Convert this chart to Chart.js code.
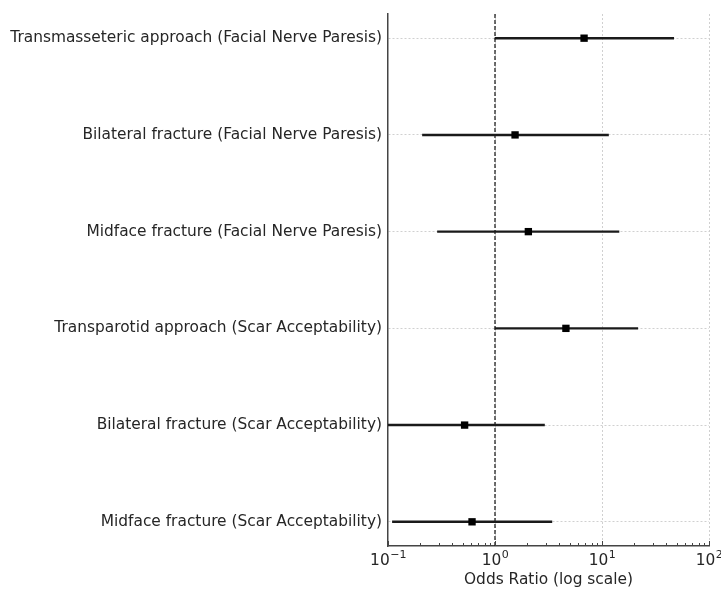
<!DOCTYPE html>
<html>
<head>
<meta charset="utf-8">
<script src="https://cdn.jsdelivr.net/npm/chart.js@4.4.0/dist/chart.umd.min.js"></script>
<style>
  html, body { margin: 0; padding: 0; background: #fff; }
  #wrap { width: 721px; height: 589px; }
</style>
</head>
<body>
<div id="wrap"><canvas id="forest"></canvas></div>
<script>
// forest plot data
const labels = [
    'Transmasseteric approach (Facial Nerve Paresis)',
    'Bilateral fracture (Facial Nerve Paresis)',
    'Midface fracture (Facial Nerve Paresis)',
    'Transparotid approach (Scar Acceptability)',
    'Bilateral fracture (Scar Acceptability)',
    'Midface fracture (Scar Acceptability)'
];
const oddsRatio = [6.8, 1.54, 2.05, 4.6, 0.52, 0.61];
const ciLow = [1.0, 0.21, 0.29, 1.0, 0.1, 0.11];
const ciHigh = [46.8, 11.5, 14.4, 21.6, 2.9, 3.4];
const xTicks = [0.1, 1, 10, 100];
const xTickExp = ['\u22121', '0', '1', '2'];

const FONT = "'DejaVu Sans', sans-serif";
const TEXT = '#262626';
const isMajor = v => xTicks.includes(v);

// inward ticks + 10^n labels on the bottom spine, like matplotlib
const tickPlugin = {
    id: 'inTicks',
    afterDatasetsDraw(chart) {
        const x = chart.scales.x;
        const ctx = chart.ctx;
        const bottom = chart.chartArea.bottom;
        ctx.save();
        ctx.strokeStyle = '#444';
        ctx.lineWidth = 1;
        x.ticks.forEach(t => {
            const px = Math.round(x.getPixelForValue(t.value)) + 0.5;
            const len = isMajor(t.value) ? 5 : 3;
            ctx.beginPath();
            ctx.moveTo(px, bottom);
            ctx.lineTo(px, bottom - len);
            ctx.stroke();
        });
        // major labels with superscript exponent
        ctx.fillStyle = TEXT;
        ctx.textBaseline = 'alphabetic';
        xTicks.forEach((v, i) => {
            const px = x.getPixelForValue(v);
            ctx.font = `15.4px ${FONT}`;
            const wBase = ctx.measureText('10').width;
            ctx.font = `11px ${FONT}`;
            const wExp = ctx.measureText(xTickExp[i]).width;
            const left = px - (wBase + wExp) / 2;
            ctx.font = `15.4px ${FONT}`;
            ctx.textAlign = 'left';
            ctx.fillText('10', left, bottom + 19);
            ctx.font = `11px ${FONT}`;
            ctx.fillText(xTickExp[i], left + wBase + 0.5, bottom + 12);
        });
        ctx.restore();
    }
};

const rows = labels.map((_, i) => i);

new Chart(document.getElementById('forest'), {
    type: 'bar',
    data: {
        datasets: [
            {
                type: 'line',
                label: 'OR = 1',
                data: [{ x: 1, y: -0.25 }, { x: 1, y: 5.25 }],
                borderColor: '#222',
                borderWidth: 1.3,
                borderDash: [4, 2],
                pointRadius: 0,
                order: 3
            },
            {
                type: 'bar',
                label: 'CI',
                data: rows.map(i => ({ x: [ciLow[i], ciHigh[i]], y: i })),
                backgroundColor: '#1a1a1a',
                borderWidth: 0,
                barThickness: 1.8,
                order: 2
            },
            {
                type: 'scatter',
                label: 'Odds ratio',
                data: rows.map(i => ({ x: oddsRatio[i], y: i })),
                pointStyle: 'rect',
                pointRadius: 5.2,
                backgroundColor: '#000',
                borderColor: '#000',
                borderWidth: 0,
                order: 1
            }
        ]
    },
    options: {
        indexAxis: 'y',
        responsive: true,
        maintainAspectRatio: false,
        animation: false,
        layout: { padding: { top: 14, right: 12, left: 0, bottom: 0 } },
        plugins: {
            legend: { display: false },
            tooltip: { enabled: false }
        },
        scales: {
            x: {
                type: 'logarithmic',
                min: 0.1,
                max: 100,
                afterBuildTicks(scale) {
                    const t = [];
                    [0.1, 1, 10].forEach(d => {
                        for (let k = 1; k < 10; k++) t.push({ value: +(d * k).toPrecision(3) });
                    });
                    t.push({ value: 100 });
                    scale.ticks = t;
                },
                afterFit(scale) {
                    scale.height = 43;
                    scale.paddingLeft = 0;
                    scale.paddingRight = 0;
                },
                ticks: {
                    autoSkip: false,
                    maxRotation: 0,
                    padding: 2,
                    font: { family: FONT, size: 14 },
                    callback: () => ''
                },
                grid: {
                    drawTicks: false,
                    color: ctx => (ctx.tick && isMajor(ctx.tick.value) && ctx.tick.value !== 0.1) ? '#d0d0d0' : 'rgba(0,0,0,0)',
                    lineWidth: 1
                },
                border: { display: true, color: '#444', width: 1.5, dash: [2, 2] },
                title: {
                    display: true,
                    text: 'Odds Ratio (log scale)',
                    color: TEXT,
                    font: { family: FONT, size: 15.4 },
                    padding: { top: 21, bottom: 0 }
                }
            },
            y: {
                type: 'linear',
                reverse: true,
                offset: false,
                min: -0.25,
                max: 5.25,
                afterBuildTicks(scale) {
                    scale.ticks = rows.map(i => ({ value: i }));
                },
                afterFit(scale) {
                    scale.width = 388;
                    scale.paddingTop = 0;
                    scale.paddingBottom = 0;
                },
                ticks: {
                    autoSkip: false,
                    color: TEXT,
                    padding: 6,
                    font: { family: FONT, size: 15.4 },
                    callback: v => labels[v] || ''
                },
                grid: {
                    offset: false,
                    drawTicks: false,
                    color: '#d0d0d0',
                    lineWidth: 1
                },
                border: { display: true, color: '#444', width: 1.5, dash: [2, 2] }
            }
        }
    },
    plugins: [tickPlugin]
});
</script>
</body>
</html>
